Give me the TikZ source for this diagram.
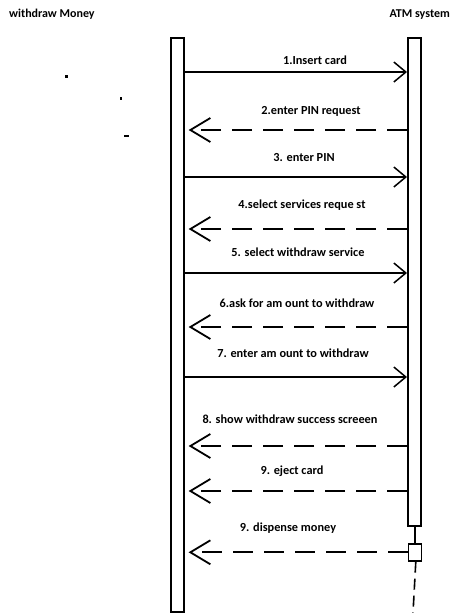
\documentclass[tikz,border=0pt]{standalone}
\usepackage{fontspec}
\setmainfont{Carlito}
\usetikzlibrary{arrows.meta}
\begin{document}
\begin{tikzpicture}[x=1pt,y=-1pt,
  bar/.style={draw,line width=1.6pt,minimum width=13pt,inner sep=0pt,anchor=north west},
  call/.style={line width=1.5pt,-{Straight Barb[length=12pt,width=20pt,line width=1.5pt]}},
  reply/.style={line width=1.8pt,dash pattern=on 20pt off 11pt,-{Straight Barb[length=20pt,width=24pt,line width=1.8pt]}},
  lbl/.style={font=\bfseries\fontsize{12.3}{14}\selectfont,inner sep=0pt},
  title/.style={font=\bfseries\fontsize{12}{14}\selectfont,inner sep=0pt}]
\useasboundingbox (0,0) rectangle (452,613);
% titles
\node[title,anchor=west] (t1) at (9,14) {withdraw Money};
\node[title,anchor=east] (t2) at (450,15) {ATM system};
% dots
\fill (64.5,74.5) rectangle (67.5,77.5);
\fill (119.5,97) rectangle (122,99.5);
\fill (124,134.5) rectangle (129,137);
% activation bars
\node[bar,minimum height=574pt] (lb) at (170,37) {};
\node[bar,minimum height=488pt] (rb) at (407,37) {};
% destroyed/square part
\node[draw,line width=1.6pt,minimum width=13pt,minimum height=17pt,inner sep=0pt,anchor=north west] (sq) at (407.5,543) {};
\draw[line width=1.6pt] (rb.south -| sq.north) -- (sq.north);
\coordinate (end) at (413,613);
\draw[line width=1.6pt,dash pattern=on 11pt off 6pt] (sq.south) ++(1,0) -- (end);
% messages
\foreach \y/\d/\cx/\ly/\t in {
  72/call/315/60/{1.Insert card},
  177/call/304/158/{3. enter PIN},
  273/call/298/252/{5. select withdraw service},
  377/call/293/353/{7. enter am ount to withdraw}}{
  \draw[\d] (lb.east |- 0,\y) -- (rb.west |- 0,\y);
  \node[lbl] at (\cx,\ly) {\t};
}
\foreach \y/\cx/\ly/\t in {
  130/311/111/{2.enter PIN request},
  229/302/205/{4.select services reque st},
  327/297/303/{6.ask for am ount to withdraw},
  446/290/419/{8. show withdraw success screeen},
  491/292/471/{9. eject card}}{
  \draw[reply] (rb.west |- 0,\y) -- ([xshift=4pt]lb.east |- 0,\y);
  \node[lbl] at (\cx,\ly) {\t};
}
\draw[reply] (sq.west) -- ([xshift=4pt]lb.east |- sq.west);
\node[lbl] (l10) at (288,528) {9. dispense money};
\end{tikzpicture}
\end{document}
